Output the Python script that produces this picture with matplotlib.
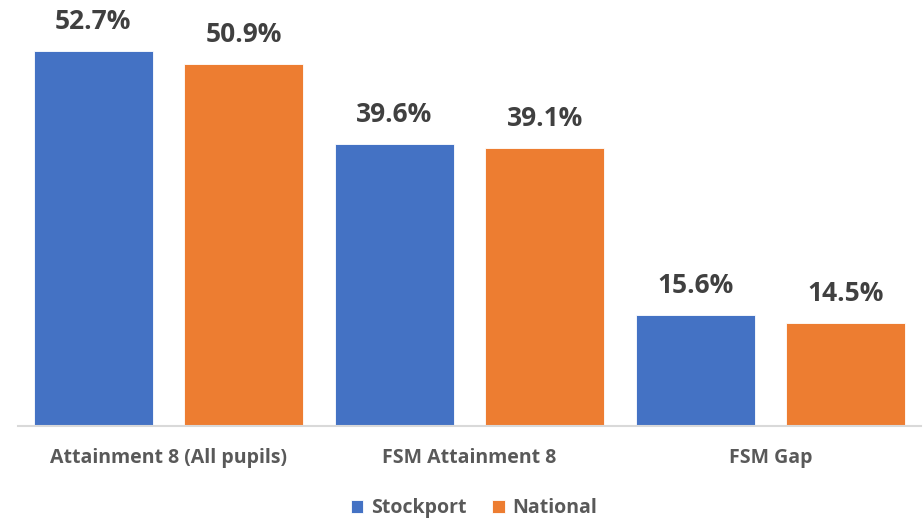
import matplotlib
matplotlib.use("Agg")
import matplotlib.pyplot as plt
import numpy as np

categories = ["Attainment 8 (All pupils)", "FSM Attainment 8", "FSM Gap"]
stockport = [52.7, 39.6, 15.6]
national = [50.9, 39.1, 14.5]
series_names = ["Stockport", "National"]
colors = ["#4472C4", "#ED7D31"]

plt.rcParams["font.family"] = ["Open Sans", "DejaVu Sans"]

fig = plt.figure(figsize=(9.24, 5.2), dpi=100)
ax = fig.add_axes([18 / 924, 1 - 426 / 520, 903 / 924, 424 / 520])

x = np.arange(len(categories))
offset = 0.25
width = 0.395

for vals, name, col, sign in zip([stockport, national], series_names, colors, [-1, 1]):
    bars = ax.bar(x + sign * offset, vals, width, color=col, label=name,
                  edgecolor="white", linewidth=0.6)
    for b, v in zip(bars, vals):
        ax.annotate(f"{v:.1f}%", (b.get_x() + b.get_width() / 2, v),
                    xytext=(0, 16), textcoords="offset pixels",
                    ha="center", va="bottom", fontsize=19, fontweight="bold",
                    color="#404040")

ax.set_xlim(-0.5, 2.5)
ax.set_ylim(0, 59.6)
ax.set_yticks([])
ax.set_xticks(x)
ax.set_xticklabels(categories, fontsize=14, fontweight="bold", color="#595959")
ax.tick_params(axis="x", length=0, pad=16)
for s in ["top", "right", "left"]:
    ax.spines[s].set_visible(False)
ax.spines["bottom"].set_color("#D9D9D9")
ax.spines["bottom"].set_linewidth(1.5)

leg = fig.legend(loc="center", bbox_to_anchor=(474 / 924, 1 - 508 / 520), ncol=2,
                 frameon=False, handlelength=0.65, handleheight=0.65,
                 handletextpad=0.4, columnspacing=1.3,
                 prop={"size": 14, "weight": "bold"})
for t in leg.get_texts():
    t.set_color("#595959")

fig.savefig("out.png", dpi=100)
